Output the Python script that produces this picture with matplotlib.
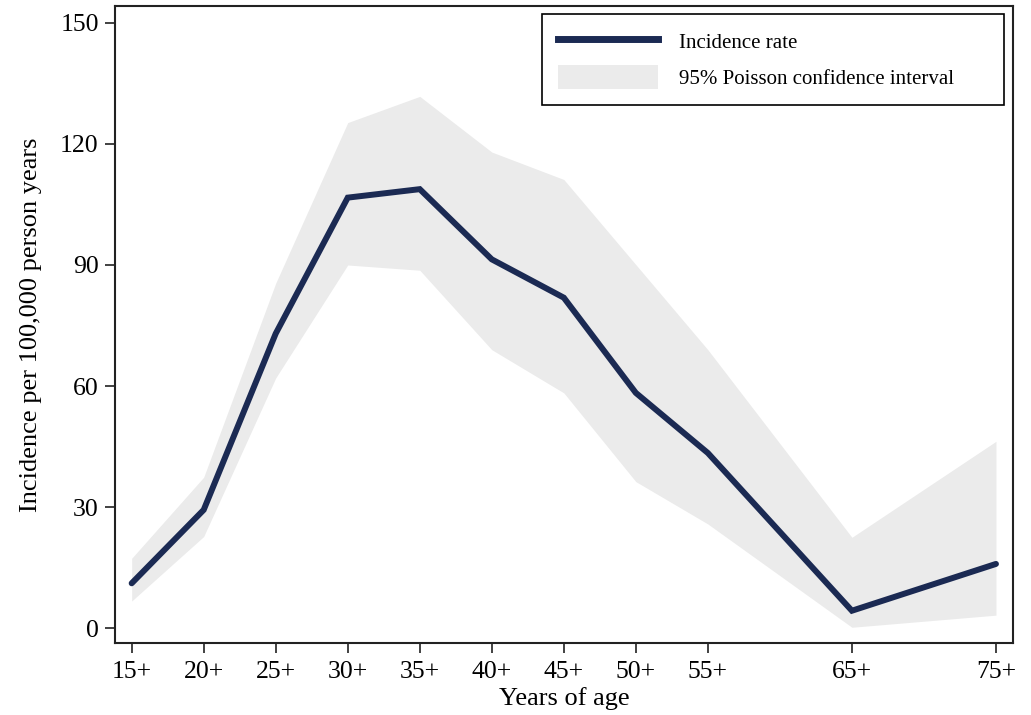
import matplotlib.pyplot as plt
from matplotlib.patches import Patch
from matplotlib.lines import Line2D

plt.rcParams['font.family'] = ['Liberation Serif', 'DejaVu Serif']

ages = [15, 20, 25, 30, 35, 40, 45, 50, 55, 65, 75]
age_labels = ['15+', '20+', '25+', '30+', '35+', '40+', '45+', '50+', '55+', '65+', '75+']
rate = [11.1, 29.3, 73.0, 106.7, 108.8, 91.4, 81.9, 58.3, 43.4, 4.3, 15.9]
ci_upper = [17.3, 37.4, 85.5, 125.3, 131.8, 118.0, 111.2, 90.1, 69.0, 22.5, 46.3]
ci_lower = [6.7, 22.7, 62.0, 90.0, 88.7, 69.0, 58.3, 36.3, 25.8, 0.2, 3.2]

line_col = '#1b2a53'
fill_col = '#ebebeb'

fig = plt.figure(figsize=(10.31, 7.15), dpi=100)
ax = fig.add_axes([0.1115, 0.1007, 0.871, 0.8909])

ax.fill_between(ages, ci_lower, ci_upper, color=fill_col, linewidth=0)
ax.plot(ages, rate, color=line_col, linewidth=4.3, solid_capstyle='round', solid_joinstyle='miter')

ax.set_xlim(13.84, 76.18)
ax.set_ylim(-3.7, 154.2)
ax.set_xticks(ages)
ax.set_xticklabels(age_labels)
ax.set_yticks([0, 30, 60, 90, 120, 150])
ax.tick_params(axis='both', direction='out', length=7.2, width=1.3, labelsize=18.5, pad=4.5, color='#333333')
ax.tick_params(axis='x', pad=6)
for s in ax.spines.values():
    s.set_linewidth(1.5)
    s.set_color('#222222')

ax.set_xlabel('Years of age', fontsize=19, labelpad=3)
ax.set_ylabel('Incidence per 100,000 person years', fontsize=19, labelpad=13)

handles = [Line2D([0], [0], color=line_col, linewidth=5),
           Patch(facecolor=fill_col, edgecolor='none')]
leg = ax.legend(handles, ['Incidence rate', '95% Poisson confidence interval'],
                loc='upper left', bbox_to_anchor=(0.4755, 0.846, 0.5145, 0.1414),
                mode='expand', borderaxespad=0,
                fontsize=15, handlelength=4.8, handleheight=1.35,
                handletextpad=1.05, labelspacing=0.58, borderpad=0.75,
                fancybox=False, framealpha=1)
leg.get_frame().set_edgecolor('black')
leg.get_frame().set_linewidth(1.2)

fig.savefig('out.png', dpi=100)
